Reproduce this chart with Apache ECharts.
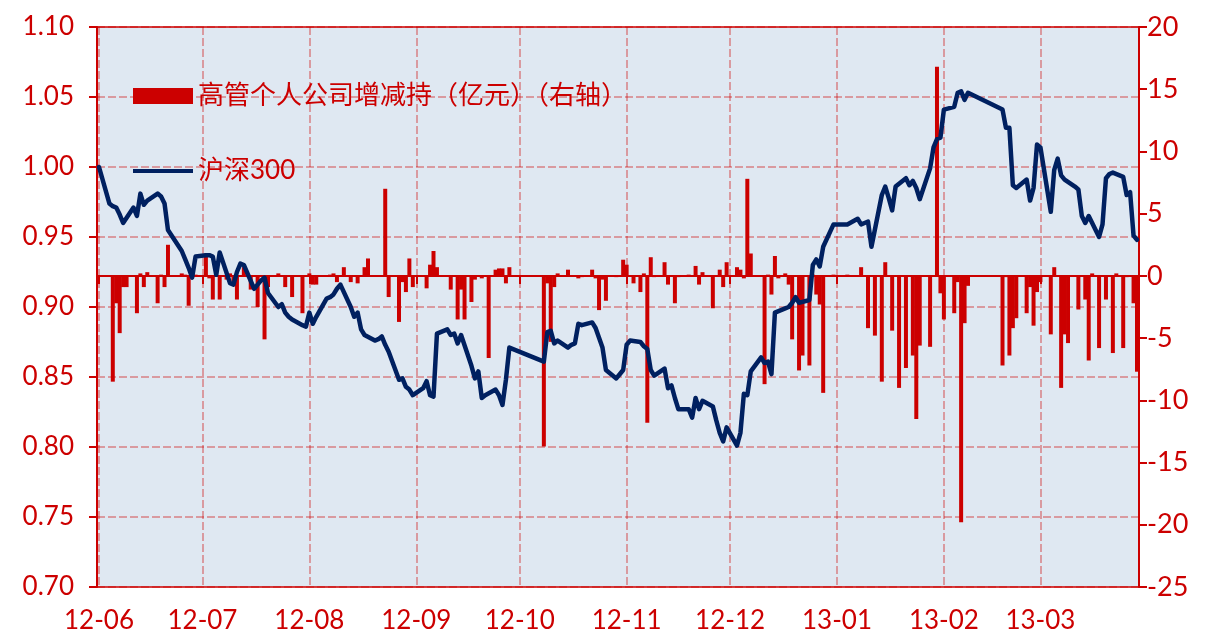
<!DOCTYPE html>
<html>
<head>
<meta charset="utf-8">
<script src="https://cdn.jsdelivr.net/npm/echarts@6/dist/echarts.min.js"></script>
<style>
html,body{margin:0;padding:0;background:#fff;}
#chart{width:1215px;height:642px;}
</style>
</head>
<body>
<div id="chart"></div>
<script>
// ---- data ----
const barName = '高管个人公司增减持（亿元）（右轴）';
const lineName = '沪深300';

const lineDates = [
'2012-06-01','2012-06-04','2012-06-05','2012-06-06','2012-06-07','2012-06-08','2012-06-11','2012-06-12','2012-06-13','2012-06-14','2012-06-15','2012-06-18','2012-06-19','2012-06-20','2012-06-21','2012-06-25','2012-06-26','2012-06-27','2012-06-28','2012-06-29',
'2012-07-02','2012-07-03','2012-07-04','2012-07-05','2012-07-06','2012-07-09','2012-07-10','2012-07-11','2012-07-12','2012-07-13','2012-07-16','2012-07-17','2012-07-18','2012-07-19','2012-07-20','2012-07-23','2012-07-24','2012-07-25','2012-07-26','2012-07-27','2012-07-30','2012-07-31',
'2012-08-01','2012-08-02','2012-08-03','2012-08-06','2012-08-07','2012-08-08','2012-08-09','2012-08-10','2012-08-13','2012-08-14','2012-08-15','2012-08-16','2012-08-17','2012-08-20','2012-08-21','2012-08-22','2012-08-23','2012-08-24','2012-08-27','2012-08-28','2012-08-29','2012-08-30','2012-08-31',
'2012-09-03','2012-09-04','2012-09-05','2012-09-06','2012-09-07','2012-09-10','2012-09-11','2012-09-12','2012-09-13','2012-09-14','2012-09-17','2012-09-18','2012-09-19','2012-09-20','2012-09-21','2012-09-24','2012-09-25','2012-09-26','2012-09-27','2012-09-28',
'2012-10-08','2012-10-09','2012-10-10','2012-10-11','2012-10-12','2012-10-15','2012-10-16','2012-10-17','2012-10-18','2012-10-19','2012-10-22','2012-10-23','2012-10-24','2012-10-25','2012-10-26','2012-10-29','2012-10-30','2012-10-31',
'2012-11-01','2012-11-02','2012-11-05','2012-11-06','2012-11-07','2012-11-08','2012-11-09','2012-11-12','2012-11-13','2012-11-14','2012-11-15','2012-11-16','2012-11-19','2012-11-20','2012-11-21','2012-11-22','2012-11-23','2012-11-26','2012-11-27','2012-11-28','2012-11-29','2012-11-30',
'2012-12-03','2012-12-04','2012-12-05','2012-12-06','2012-12-07','2012-12-10','2012-12-11','2012-12-12','2012-12-13','2012-12-14','2012-12-17','2012-12-18','2012-12-19','2012-12-20','2012-12-21','2012-12-24','2012-12-25','2012-12-26','2012-12-27','2012-12-28','2012-12-31',
'2013-01-04','2013-01-07','2013-01-08','2013-01-09','2013-01-10','2013-01-11','2013-01-14','2013-01-15','2013-01-16','2013-01-17','2013-01-18','2013-01-21','2013-01-22','2013-01-23','2013-01-24','2013-01-25','2013-01-28','2013-01-29','2013-01-30','2013-01-31',
'2013-02-01','2013-02-04','2013-02-05','2013-02-06','2013-02-07','2013-02-08','2013-02-18','2013-02-19','2013-02-20','2013-02-21','2013-02-22','2013-02-25','2013-02-26','2013-02-27','2013-02-28',
'2013-03-01','2013-03-04','2013-03-05','2013-03-06','2013-03-07','2013-03-08','2013-03-11','2013-03-12','2013-03-13','2013-03-14','2013-03-15','2013-03-18','2013-03-19','2013-03-20','2013-03-21','2013-03-22','2013-03-25','2013-03-26','2013-03-27','2013-03-28','2013-03-29'
];
const lineValues = [
1.000,0.974,0.972,0.971,0.966,0.960,0.971,0.965,0.981,0.973,0.976,0.981,0.979,0.974,0.955,0.940,0.934,0.928,0.921,0.936,
0.937,0.937,0.936,0.923,0.939,0.917,0.916,0.925,0.931,0.930,0.913,0.916,0.919,0.921,0.910,0.900,0.902,0.896,0.893,0.891,0.887,0.886,
0.896,0.888,0.893,0.906,0.907,0.909,0.913,0.916,0.900,0.893,0.896,0.884,0.880,0.876,0.877,0.879,0.873,0.868,0.848,0.849,0.843,0.841,0.837,
0.842,0.847,0.837,0.836,0.881,0.884,0.880,0.881,0.874,0.880,0.858,0.849,0.854,0.835,0.837,0.841,0.837,0.830,0.848,0.871,
0.861,0.882,0.883,0.874,0.876,0.871,0.873,0.874,0.888,0.887,0.889,0.885,0.878,0.871,0.855,0.849,0.852,0.855,
0.873,0.876,0.875,0.872,0.870,0.855,0.851,0.856,0.842,0.844,0.835,0.827,0.827,0.821,0.835,0.827,0.833,0.829,0.819,0.810,0.804,0.814,
0.801,0.810,0.838,0.837,0.854,0.864,0.860,0.861,0.852,0.896,0.899,0.900,0.903,0.907,0.903,0.905,0.930,0.934,0.929,0.943,0.959,
0.959,0.963,0.959,0.960,0.961,0.943,0.980,0.986,0.978,0.969,0.986,0.992,0.987,0.990,0.985,0.977,0.999,1.014,1.020,1.021,
1.041,1.043,1.053,1.054,1.048,1.053,1.041,1.028,1.028,0.987,0.985,0.991,0.976,0.985,1.016,
1.014,0.968,0.998,1.006,0.994,0.991,0.986,0.984,0.965,0.960,0.965,0.950,0.959,0.992,0.995,0.996,0.993,0.980,0.982,0.951,0.948
];

const barDates = [
'2012-06-05','2012-06-06','2012-06-07','2012-06-08','2012-06-09','2012-06-12','2012-06-13','2012-06-14','2012-06-15','2012-06-18','2012-06-19','2012-06-20','2012-06-21','2012-06-25','2012-06-26','2012-06-27','2012-06-29',
'2012-07-02','2012-07-03','2012-07-04','2012-07-06','2012-07-08','2012-07-09','2012-07-10','2012-07-11','2012-07-13','2012-07-15','2012-07-17','2012-07-19','2012-07-20','2012-07-23','2012-07-25','2012-07-27','2012-07-30',
'2012-08-01','2012-08-02','2012-08-03','2012-08-07','2012-08-08','2012-08-09','2012-08-11','2012-08-13','2012-08-15','2012-08-17','2012-08-18','2012-08-23','2012-08-24','2012-08-27','2012-08-28','2012-08-29','2012-08-30','2012-08-31',
'2012-09-04','2012-09-05','2012-09-06','2012-09-07','2012-09-11','2012-09-13','2012-09-14','2012-09-15','2012-09-17','2012-09-18','2012-09-20','2012-09-22','2012-09-24','2012-09-25','2012-09-26','2012-09-27','2012-09-28',
'2012-10-08','2012-10-09','2012-10-10','2012-10-11','2012-10-12','2012-10-15','2012-10-18','2012-10-19','2012-10-22','2012-10-23','2012-10-24','2012-10-25','2012-10-26','2012-10-29','2012-10-31',
'2012-11-01','2012-11-03','2012-11-05','2012-11-06','2012-11-07','2012-11-08','2012-11-09','2012-11-12','2012-11-13','2012-11-15','2012-11-16','2012-11-19','2012-11-21','2012-11-22','2012-11-23','2012-11-26','2012-11-28','2012-11-29','2012-11-30',
'2012-12-03','2012-12-04','2012-12-05','2012-12-06','2012-12-07','2012-12-11','2012-12-12','2012-12-13','2012-12-14','2012-12-15','2012-12-17','2012-12-18','2012-12-19','2012-12-21','2012-12-22','2012-12-24','2012-12-25','2012-12-26','2012-12-27','2012-12-28','2012-12-31',
'2013-01-04','2013-01-08','2013-01-10','2013-01-12','2013-01-14','2013-01-15','2013-01-17','2013-01-19','2013-01-21','2013-01-23','2013-01-24','2013-01-25','2013-01-28','2013-01-30','2013-01-31',
'2013-02-01','2013-02-04','2013-02-05','2013-02-06','2013-02-07','2013-02-08','2013-02-18','2013-02-19','2013-02-20','2013-02-21','2013-02-22','2013-02-25','2013-02-26','2013-02-27','2013-02-28',
'2013-03-01','2013-03-04','2013-03-05','2013-03-07','2013-03-08','2013-03-09','2013-03-12','2013-03-14','2013-03-15','2013-03-16','2013-03-18','2013-03-20','2013-03-22','2013-03-23','2013-03-25','2013-03-26','2013-03-28','2013-03-29'
];
const barValues = [
-8.5,-2.2,-4.6,-0.9,-0.9,-3.0,0.2,-0.9,0.3,-2.2,0.1,-0.9,2.5,0.2,0.1,-2.4,0.1,
1.8,-0.2,-1.9,-1.9,-0.3,0.2,-0.6,-1.9,0.7,-1.1,-2.5,-5.1,-0.9,0.2,-0.9,-1.7,-3.0,
0.2,-0.7,-0.7,0.1,0.2,-0.5,0.7,-0.5,-0.6,0.7,1.4,7.0,-1.7,-3.7,-0.5,-1.3,1.4,-0.9,
-1.0,0.9,2.0,0.7,-1.1,-3.5,-1.1,-3.5,-2.1,-0.3,-0.2,-6.6,0.5,0.6,0.6,-0.6,0.7,
-13.7,-0.6,-5.3,-0.9,0.2,0.5,-0.2,-0.1,0.5,-0.2,-2.75,-0.3,-2.0,-0.1,1.3,
0.9,-0.6,-1.3,0.2,-11.8,1.5,-0.1,1.1,-0.7,-2.2,-0.1,0.1,0.8,-0.7,0.3,-2.6,0.5,-0.9,1.1,
0.7,0.5,-0.2,7.8,1.8,-8.7,0.1,-1.5,1.6,-0.2,0.2,-0.7,-5.1,-7.6,-6.4,-7.2,0.1,-1.5,-2.3,-9.4,0.1,
0.1,0.7,-4.2,-4.8,-8.5,1.1,-4.4,-9.0,-7.4,-6.4,-11.5,-5.6,-5.7,16.8,-1.4,
-3.5,-3.0,-0.5,-19.8,-3.8,-0.8,-7.2,-0.1,-6.4,-4.2,-3.4,-3.0,-0.9,-4.0,-1.3,
-0.5,-4.7,0.7,-9.0,-4.7,-5.4,-2.7,-1.9,-6.8,0.2,-5.8,-1.9,-6.2,0.2,-5.8,-0.1,-2.2,-7.7
];

const xStart = '2012-06-01';
const xEnd = '2013-03-29';
const leftMin = 0.70, leftMax = 1.10, leftStep = 0.05;
const rightMin = -25, rightMax = 20, rightStep = 5;

// ---- styles ----
const RED = '#CC0000';
const NAVY = '#002060';
const FONT = "Lato, 'Noto Sans CJK SC', sans-serif";
const gridDash = { color: 'rgba(204,0,0,0.45)', width: 1.5, type: [8, 3] };

const chart = echarts.init(document.getElementById('chart'), null, { renderer: 'canvas' });

const pad2 = n => (n < 10 ? '0' : '') + n;
const legendText = { color: RED, fontSize: 26, fontFamily: FONT };

chart.setOption({
  animation: false,
  backgroundColor: '#ffffff',
  textStyle: { fontFamily: FONT },
  grid: {
    left: 97, right: 76, top: 27, bottom: 55,
    show: true, backgroundColor: '#DFE8F2', borderColor: RED, borderWidth: 1.5,
    containLabel: false, outerBoundsMode: 'none'
  },
  legend: [
    {
      orient: 'vertical', left: 133, top: 83, padding: 0,
      itemWidth: 60, itemHeight: 16, selectedMode: false,
      textStyle: legendText,
      data: [ { name: barName, icon: 'rect' } ]
    },
    {
      orient: 'vertical', left: 133, top: 158, padding: 0,
      itemWidth: 60, itemHeight: 4, selectedMode: false,
      textStyle: legendText,
      data: [ { name: lineName, icon: 'rect' } ]
    }
  ],
  xAxis: {
    type: 'time',
    min: xStart, max: xEnd,
    splitNumber: 10,
    minInterval: 28 * 86400000,
    maxInterval: 31 * 86400000,
    axisLine: { show: true, lineStyle: { color: RED, width: 2 } },
    axisTick: { show: true, length: 8, lineStyle: { color: RED, width: 2 } },
    axisLabel: {
      color: RED, fontSize: 26, fontFamily: FONT, margin: 21,
      showMaxLabel: false,
      formatter: function (v) {
        const d = new Date(v);
        return pad2(d.getFullYear() % 100) + '-' + pad2(d.getMonth() + 1);
      }
    },
    splitLine: { show: true, lineStyle: gridDash }
  },
  yAxis: [
    {
      type: 'value', position: 'left',
      min: leftMin, max: leftMax, interval: leftStep,
      axisLine: { show: true, lineStyle: { color: RED, width: 2 } },
      axisTick: { show: true, length: 8, lineStyle: { color: RED, width: 2 } },
      axisLabel: { color: RED, fontSize: 26, fontFamily: FONT, margin: 23,
        formatter: v => v.toFixed(2) },
      splitLine: { show: true, lineStyle: gridDash }
    },
    {
      type: 'value', position: 'right',
      min: rightMin, max: rightMax, interval: rightStep,
      axisLine: { show: true, lineStyle: { color: RED, width: 2 } },
      axisTick: { show: true, length: 8, lineStyle: { color: RED, width: 2 } },
      axisLabel: { color: RED, fontSize: 27, fontFamily: FONT, margin: 8 },
      splitLine: { show: false }
    }
  ],
  series: [
    {
      name: barName, type: 'bar', yAxisIndex: 1,
      barWidth: 4, clip: true, z: 2,
      itemStyle: { color: RED },
      data: barDates.map((d, i) => [d, barValues[i]])
    },
    {
      name: lineName, type: 'line', yAxisIndex: 0,
      showSymbol: false, symbol: 'none', z: 3,
      lineStyle: { color: NAVY, width: 4.5, join: 'round', cap: 'round' },
      itemStyle: { color: NAVY },
      data: lineDates.map((d, i) => [d, lineValues[i]])
    }
  ]
});
</script>
</body>
</html>
